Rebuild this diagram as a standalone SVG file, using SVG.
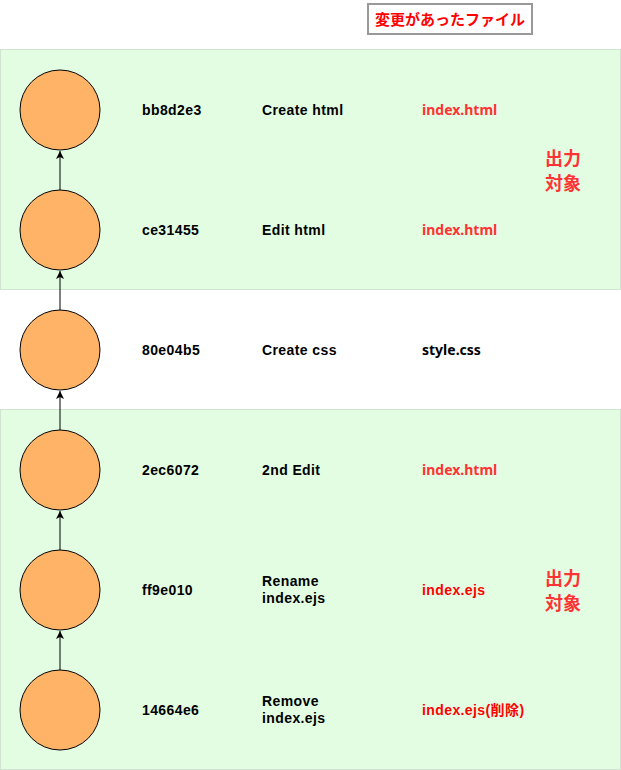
<svg xmlns="http://www.w3.org/2000/svg" width="621" height="770" viewBox="0 0 621 770">
<defs>
<style>
.zone{fill:#E3FDE3;stroke:#D0E3D0;stroke-width:1}
.c{fill:#FFB366;stroke:#000;stroke-width:1}
.t{font-family:"Liberation Sans",Arial,"Noto Sans CJK JP",sans-serif;font-weight:bold;font-size:14px;letter-spacing:0.4px;fill:#000}
.f{font-family:"Noto Sans","Open Sans",sans-serif;font-weight:bold;font-size:14px}
.r1{fill:#FF3333}
.r2{fill:#FF0000}
.big{font-family:"Noto Sans CJK JP","Noto Sans",sans-serif;font-weight:bold;font-size:18px;fill:#FF3333}
.lbl{font-family:"Noto Sans CJK JP",sans-serif;font-weight:bold;font-size:15px;fill:#FF0000}
.e{stroke:#000;stroke-width:1;fill:none}
</style>
<marker id="ah" markerWidth="10" markerHeight="10" refX="8" refY="5" orient="auto" markerUnits="userSpaceOnUse">
<path d="M0,1 L8,5 L0,9 L2,5 Z" fill="#000"/>
</marker>
</defs>
<rect width="621" height="770" fill="#fff"/>
<g id="zone-top"><rect class="zone" x="0.5" y="49.5" width="620" height="240"/>
<text class="big" x="545" y="165">出力</text><text class="big" x="545" y="190">対象</text></g>
<g id="zone-bottom"><rect class="zone" x="0.5" y="409.5" width="620" height="360"/>
<text class="big" x="545" y="585">出力</text><text class="big" x="545" y="610">対象</text></g>
<g id="legend"><rect x="368" y="4" width="164" height="30" fill="#fff" stroke="#999" stroke-width="2"/>
<text class="lbl" x="450" y="24.5" text-anchor="middle">変更があったファイル</text></g>
<g id="connectors">
<line class="e" x1="60" y1="190" x2="60" y2="151" marker-end="url(#ah)"/>
<line class="e" x1="60" y1="310" x2="60" y2="271" marker-end="url(#ah)"/>
<line class="e" x1="60" y1="430" x2="60" y2="391" marker-end="url(#ah)"/>
<line class="e" x1="60" y1="550" x2="60" y2="511" marker-end="url(#ah)"/>
<line class="e" x1="60" y1="670" x2="60" y2="631" marker-end="url(#ah)"/>
</g>
<g id="n-bb8d2e3"><circle class="c" cx="60" cy="110" r="40"/>
<text class="t" x="142" y="114.5">bb8d2e3</text><text class="t" x="262" y="114.5">Create html</text><text class="f r1" x="422" y="114.5">index.html</text></g>
<g id="n-ce31455"><circle class="c" cx="60" cy="230" r="40"/>
<text class="t" x="142" y="234.5">ce31455</text><text class="t" x="262" y="234.5">Edit html</text><text class="f r1" x="422" y="234.5">index.html</text></g>
<g id="n-80e04b5"><circle class="c" cx="60" cy="350" r="40"/>
<text class="t" x="142" y="354.5">80e04b5</text><text class="t" x="262" y="354.5">Create css</text><text class="f" x="422" y="354.5">style.css</text></g>
<g id="n-2ec6072"><circle class="c" cx="60" cy="470" r="40"/>
<text class="t" x="142" y="474.5">2ec6072</text><text class="t" x="262" y="474.5">2nd Edit</text><text class="f r1" x="422" y="474.5">index.html</text></g>
<g id="n-ff9e010"><circle class="c" cx="60" cy="590" r="40"/>
<text class="t" x="142" y="594.5">ff9e010</text><text class="t" x="262" y="586">Rename</text><text class="t" x="262" y="602.5">index.ejs</text><text class="t r2" x="422" y="594.5">index.ejs</text></g>
<g id="n-14664e6"><circle class="c" cx="60" cy="710" r="40"/>
<text class="t" x="142" y="714.5">14664e6</text><text class="t" x="262" y="706">Remove</text><text class="t" x="262" y="722.5">index.ejs</text><text class="t r2" x="422" y="714.5">index.ejs(削除)</text></g>
</svg>
